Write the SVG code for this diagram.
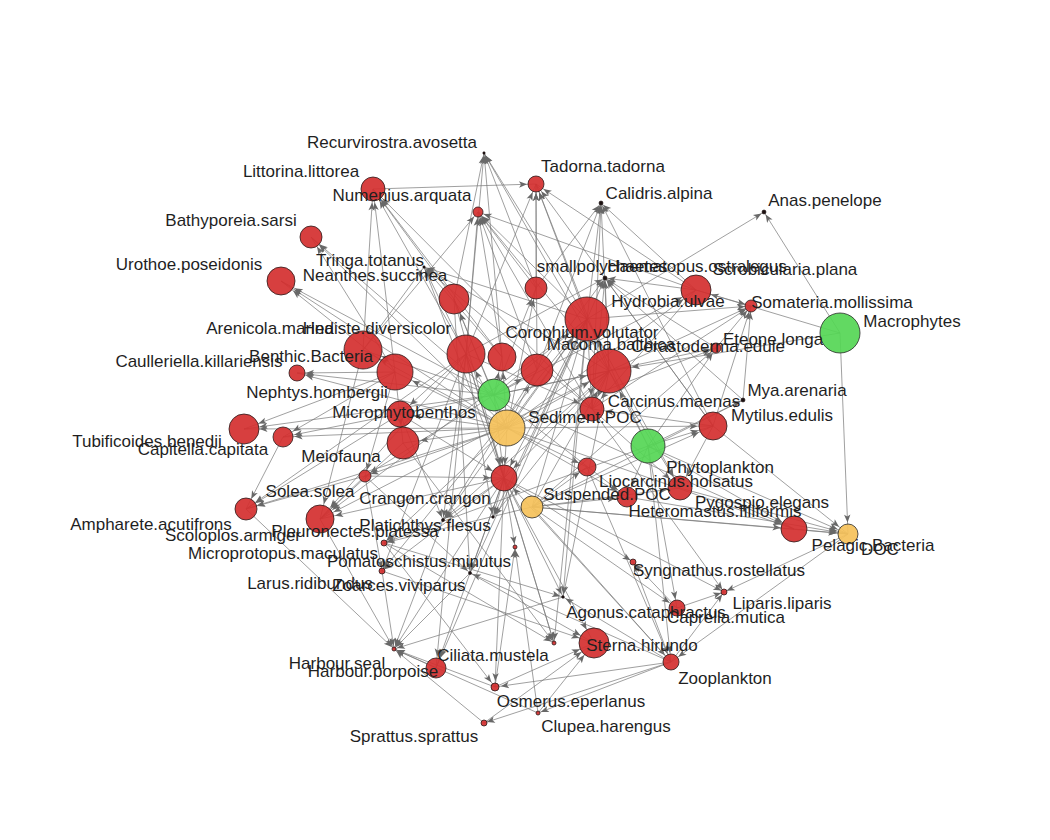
<svg xmlns="http://www.w3.org/2000/svg" width="1050" height="840" viewBox="0 0 1050 840">
<style>
#edges line{stroke:#777777;stroke-opacity:.7;stroke-width:1;fill:none}
.t2{marker-end:url(#m2)}.t5{marker-end:url(#m5)}.t8{marker-end:url(#m8)}.t10{marker-end:url(#m10)}.t12{marker-end:url(#m12)}.t14{marker-end:url(#m14)}.t16{marker-end:url(#m16)}.t18{marker-end:url(#m18)}.t22{marker-end:url(#m22)}
.ah{fill:#686868}
.r{fill:#d42f2f;fill-opacity:.92;stroke:#2a1a1a;stroke-width:.8}
.g{fill:#55d655;fill-opacity:.92;stroke:#2a2a2a;stroke-width:.8}
.o{fill:#f5c15a;fill-opacity:.92;stroke:#2a2a2a;stroke-width:.8}
.k{fill:#1c1010;stroke:#1c1010;stroke-width:.6}
#labels text{font-family:"Liberation Sans",Arial,sans-serif;font-size:17px;fill:#1f1f1f;text-anchor:middle}
</style>
<defs>
<marker id="m2" markerUnits="userSpaceOnUse" orient="auto" refX="11" refY="0" markerWidth="10" markerHeight="8" overflow="visible"><path class="ah" d="M0,-3.2L8,0L0,3.2L2,0Z"/></marker>
<marker id="m5" markerUnits="userSpaceOnUse" orient="auto" refX="14" refY="0" markerWidth="10" markerHeight="8" overflow="visible"><path class="ah" d="M0,-3.2L8,0L0,3.2L2,0Z"/></marker>
<marker id="m8" markerUnits="userSpaceOnUse" orient="auto" refX="17" refY="0" markerWidth="10" markerHeight="8" overflow="visible"><path class="ah" d="M0,-3.2L8,0L0,3.2L2,0Z"/></marker>
<marker id="m10" markerUnits="userSpaceOnUse" orient="auto" refX="19.5" refY="0" markerWidth="10" markerHeight="8" overflow="visible"><path class="ah" d="M0,-3.2L8,0L0,3.2L2,0Z"/></marker>
<marker id="m12" markerUnits="userSpaceOnUse" orient="auto" refX="21.5" refY="0" markerWidth="10" markerHeight="8" overflow="visible"><path class="ah" d="M0,-3.2L8,0L0,3.2L2,0Z"/></marker>
<marker id="m14" markerUnits="userSpaceOnUse" orient="auto" refX="23.5" refY="0" markerWidth="10" markerHeight="8" overflow="visible"><path class="ah" d="M0,-3.2L8,0L0,3.2L2,0Z"/></marker>
<marker id="m16" markerUnits="userSpaceOnUse" orient="auto" refX="25.5" refY="0" markerWidth="10" markerHeight="8" overflow="visible"><path class="ah" d="M0,-3.2L8,0L0,3.2L2,0Z"/></marker>
<marker id="m18" markerUnits="userSpaceOnUse" orient="auto" refX="27.5" refY="0" markerWidth="10" markerHeight="8" overflow="visible"><path class="ah" d="M0,-3.2L8,0L0,3.2L2,0Z"/></marker>
<marker id="m22" markerUnits="userSpaceOnUse" orient="auto" refX="31" refY="0" markerWidth="10" markerHeight="8" overflow="visible"><path class="ah" d="M0,-3.2L8,0L0,3.2L2,0Z"/></marker>
</defs>
<rect width="1050" height="840" fill="#ffffff"/>
<g id="edges">
<line x1="507" y1="428" x2="281" y2="281" class="t14"/>
<line x1="507" y1="428" x2="311" y2="237" class="t10"/>
<line x1="507" y1="428" x2="363" y2="350" class="t18"/>
<line x1="507" y1="428" x2="466" y2="354" class="t18"/>
<line x1="507" y1="428" x2="395" y2="372" class="t18"/>
<line x1="507" y1="428" x2="297" y2="373" class="t8"/>
<line x1="507" y1="428" x2="244" y2="429" class="t14"/>
<line x1="507" y1="428" x2="283" y2="437" class="t10"/>
<line x1="507" y1="428" x2="400" y2="414" class="t12"/>
<line x1="507" y1="428" x2="403" y2="443" class="t16"/>
<line x1="507" y1="428" x2="365" y2="476" class="t5"/>
<line x1="507" y1="428" x2="587" y2="319" class="t22"/>
<line x1="507" y1="428" x2="609" y2="371" class="t22"/>
<line x1="507" y1="428" x2="696" y2="290" class="t14"/>
<line x1="507" y1="428" x2="536" y2="288" class="t10"/>
<line x1="507" y1="428" x2="454" y2="299" class="t14"/>
<line x1="507" y1="428" x2="502" y2="357" class="t14"/>
<line x1="507" y1="428" x2="537" y2="370" class="t16"/>
<line x1="507" y1="428" x2="716" y2="348" class="t5"/>
<line x1="507" y1="428" x2="794" y2="529" class="t12"/>
<line x1="507" y1="428" x2="627" y2="497" class="t10"/>
<line x1="507" y1="428" x2="504" y2="478" class="t12"/>
<line x1="507" y1="428" x2="713" y2="426" class="t14"/>
<line x1="507" y1="428" x2="587" y2="467" class="t8"/>
<line x1="507" y1="428" x2="384" y2="543" class="t2"/>
<line x1="507" y1="428" x2="246" y2="509" class="t10"/>
<line x1="494" y1="395" x2="696" y2="290" class="t14"/>
<line x1="494" y1="395" x2="587" y2="319" class="t22"/>
<line x1="494" y1="395" x2="609" y2="371" class="t22"/>
<line x1="494" y1="395" x2="536" y2="288" class="t10"/>
<line x1="494" y1="395" x2="454" y2="299" class="t14"/>
<line x1="494" y1="395" x2="281" y2="281" class="t14"/>
<line x1="494" y1="395" x2="311" y2="237" class="t10"/>
<line x1="494" y1="395" x2="297" y2="373" class="t8"/>
<line x1="494" y1="395" x2="244" y2="429" class="t14"/>
<line x1="494" y1="395" x2="283" y2="437" class="t10"/>
<line x1="494" y1="395" x2="365" y2="476" class="t5"/>
<line x1="494" y1="395" x2="716" y2="348" class="t5"/>
<line x1="494" y1="395" x2="537" y2="370" class="t16"/>
<line x1="494" y1="395" x2="502" y2="357" class="t14"/>
<line x1="494" y1="395" x2="363" y2="350" class="t18"/>
<line x1="494" y1="395" x2="794" y2="529" class="t12"/>
<line x1="494" y1="395" x2="627" y2="497" class="t10"/>
<line x1="494" y1="395" x2="504" y2="478" class="t12"/>
<line x1="395" y1="372" x2="244" y2="429" class="t14"/>
<line x1="395" y1="372" x2="283" y2="437" class="t10"/>
<line x1="395" y1="372" x2="297" y2="373" class="t8"/>
<line x1="395" y1="372" x2="281" y2="281" class="t14"/>
<line x1="395" y1="372" x2="311" y2="237" class="t10"/>
<line x1="395" y1="372" x2="365" y2="476" class="t5"/>
<line x1="395" y1="372" x2="403" y2="443" class="t16"/>
<line x1="466" y1="354" x2="400" y2="414" class="t12"/>
<line x1="454" y1="299" x2="504" y2="478" class="t12"/>
<line x1="587" y1="467" x2="671" y2="662" class="t8"/>
<line x1="713" y1="426" x2="536" y2="184" class="t8"/>
<line x1="532" y1="507" x2="713" y2="426" class="t14"/>
<line x1="532" y1="507" x2="716" y2="348" class="t5"/>
<line x1="532" y1="507" x2="743" y2="400" class="t2"/>
<line x1="532" y1="507" x2="794" y2="529" class="t12"/>
<line x1="532" y1="507" x2="609" y2="371" class="t22"/>
<line x1="532" y1="507" x2="587" y2="319" class="t22"/>
<line x1="532" y1="507" x2="671" y2="662" class="t8"/>
<line x1="532" y1="507" x2="677" y2="608" class="t8"/>
<line x1="532" y1="507" x2="627" y2="497" class="t10"/>
<line x1="532" y1="507" x2="384" y2="543" class="t2"/>
<line x1="532" y1="507" x2="680" y2="488" class="t12"/>
<line x1="532" y1="507" x2="587" y2="467" class="t8"/>
<line x1="532" y1="507" x2="848" y2="534" class="t10"/>
<line x1="648" y1="446" x2="713" y2="426" class="t14"/>
<line x1="648" y1="446" x2="743" y2="400" class="t2"/>
<line x1="648" y1="446" x2="716" y2="348" class="t5"/>
<line x1="648" y1="446" x2="671" y2="662" class="t8"/>
<line x1="648" y1="446" x2="677" y2="608" class="t8"/>
<line x1="648" y1="446" x2="794" y2="529" class="t12"/>
<line x1="648" y1="446" x2="609" y2="371" class="t22"/>
<line x1="648" y1="446" x2="627" y2="497" class="t10"/>
<line x1="648" y1="446" x2="587" y2="319" class="t22"/>
<line x1="648" y1="446" x2="384" y2="543" class="t2"/>
<line x1="648" y1="446" x2="848" y2="534" class="t10"/>
<line x1="840" y1="333" x2="764" y2="212" class="t2"/>
<line x1="840" y1="333" x2="848" y2="534" class="t10"/>
<line x1="840" y1="333" x2="696" y2="290" class="t14"/>
<line x1="840" y1="333" x2="609" y2="371" class="t22"/>
<line x1="794" y1="529" x2="848" y2="534" class="t10"/>
<line x1="680" y1="488" x2="848" y2="534" class="t10"/>
<line x1="713" y1="426" x2="848" y2="534" class="t10"/>
<line x1="848" y1="534" x2="671" y2="662" class="t8"/>
<line x1="848" y1="534" x2="724" y2="592" class="t2"/>
<line x1="627" y1="497" x2="848" y2="534" class="t10"/>
<line x1="466" y1="354" x2="484" y2="153" class="t2"/>
<line x1="454" y1="299" x2="484" y2="153" class="t2"/>
<line x1="587" y1="319" x2="484" y2="153" class="t2"/>
<line x1="502" y1="357" x2="484" y2="153" class="t2"/>
<line x1="609" y1="371" x2="484" y2="153" class="t2"/>
<line x1="536" y1="288" x2="484" y2="153" class="t2"/>
<line x1="363" y1="350" x2="373" y2="189" class="t12"/>
<line x1="466" y1="354" x2="373" y2="189" class="t12"/>
<line x1="454" y1="299" x2="373" y2="189" class="t12"/>
<line x1="592" y1="409" x2="373" y2="189" class="t12"/>
<line x1="395" y1="372" x2="373" y2="189" class="t12"/>
<line x1="502" y1="357" x2="373" y2="189" class="t12"/>
<line x1="466" y1="354" x2="478" y2="212" class="t5"/>
<line x1="587" y1="319" x2="478" y2="212" class="t5"/>
<line x1="609" y1="371" x2="478" y2="212" class="t5"/>
<line x1="502" y1="357" x2="478" y2="212" class="t5"/>
<line x1="537" y1="370" x2="478" y2="212" class="t5"/>
<line x1="592" y1="409" x2="478" y2="212" class="t5"/>
<line x1="363" y1="350" x2="478" y2="212" class="t5"/>
<line x1="696" y1="290" x2="478" y2="212" class="t5"/>
<line x1="536" y1="288" x2="478" y2="212" class="t5"/>
<line x1="373" y1="189" x2="536" y2="184" class="t8"/>
<line x1="696" y1="290" x2="536" y2="184" class="t8"/>
<line x1="587" y1="319" x2="536" y2="184" class="t8"/>
<line x1="536" y1="288" x2="536" y2="184" class="t8"/>
<line x1="609" y1="371" x2="536" y2="184" class="t8"/>
<line x1="537" y1="370" x2="536" y2="184" class="t8"/>
<line x1="466" y1="354" x2="536" y2="184" class="t8"/>
<line x1="696" y1="290" x2="601" y2="203" class="t2"/>
<line x1="587" y1="319" x2="601" y2="203" class="t2"/>
<line x1="609" y1="371" x2="601" y2="203" class="t2"/>
<line x1="536" y1="288" x2="601" y2="203" class="t2"/>
<line x1="713" y1="426" x2="601" y2="203" class="t2"/>
<line x1="537" y1="370" x2="601" y2="203" class="t2"/>
<line x1="592" y1="409" x2="601" y2="203" class="t2"/>
<line x1="466" y1="354" x2="424" y2="267" class="t2"/>
<line x1="587" y1="319" x2="424" y2="267" class="t2"/>
<line x1="609" y1="371" x2="424" y2="267" class="t2"/>
<line x1="502" y1="357" x2="424" y2="267" class="t2"/>
<line x1="592" y1="409" x2="424" y2="267" class="t2"/>
<line x1="504" y1="478" x2="424" y2="267" class="t2"/>
<line x1="363" y1="350" x2="424" y2="267" class="t2"/>
<line x1="713" y1="426" x2="605" y2="278" class="t2"/>
<line x1="609" y1="371" x2="605" y2="278" class="t2"/>
<line x1="716" y1="348" x2="605" y2="278" class="t2"/>
<line x1="587" y1="319" x2="605" y2="278" class="t2"/>
<line x1="466" y1="354" x2="605" y2="278" class="t2"/>
<line x1="592" y1="409" x2="605" y2="278" class="t2"/>
<line x1="743" y1="400" x2="605" y2="278" class="t2"/>
<line x1="537" y1="370" x2="605" y2="278" class="t2"/>
<line x1="696" y1="290" x2="605" y2="278" class="t2"/>
<line x1="587" y1="319" x2="764" y2="212" class="t2"/>
<line x1="713" y1="426" x2="751" y2="306" class="t5"/>
<line x1="716" y1="348" x2="751" y2="306" class="t5"/>
<line x1="609" y1="371" x2="751" y2="306" class="t5"/>
<line x1="592" y1="409" x2="751" y2="306" class="t5"/>
<line x1="743" y1="400" x2="751" y2="306" class="t5"/>
<line x1="587" y1="319" x2="751" y2="306" class="t5"/>
<line x1="696" y1="290" x2="751" y2="306" class="t5"/>
<line x1="609" y1="371" x2="592" y2="409" class="t12"/>
<line x1="587" y1="319" x2="592" y2="409" class="t12"/>
<line x1="696" y1="290" x2="592" y2="409" class="t12"/>
<line x1="466" y1="354" x2="592" y2="409" class="t12"/>
<line x1="713" y1="426" x2="592" y2="409" class="t12"/>
<line x1="365" y1="476" x2="504" y2="478" class="t12"/>
<line x1="587" y1="319" x2="504" y2="478" class="t12"/>
<line x1="466" y1="354" x2="504" y2="478" class="t12"/>
<line x1="609" y1="371" x2="504" y2="478" class="t12"/>
<line x1="400" y1="414" x2="504" y2="478" class="t12"/>
<line x1="671" y1="662" x2="504" y2="478" class="t12"/>
<line x1="587" y1="319" x2="680" y2="488" class="t12"/>
<line x1="609" y1="371" x2="680" y2="488" class="t12"/>
<line x1="713" y1="426" x2="680" y2="488" class="t12"/>
<line x1="592" y1="409" x2="680" y2="488" class="t12"/>
<line x1="587" y1="319" x2="443" y2="520" class="t2"/>
<line x1="466" y1="354" x2="443" y2="520" class="t2"/>
<line x1="504" y1="478" x2="443" y2="520" class="t2"/>
<line x1="609" y1="371" x2="443" y2="520" class="t2"/>
<line x1="537" y1="370" x2="443" y2="520" class="t2"/>
<line x1="400" y1="414" x2="443" y2="520" class="t2"/>
<line x1="466" y1="354" x2="320" y2="519" class="t14"/>
<line x1="587" y1="319" x2="320" y2="519" class="t14"/>
<line x1="609" y1="371" x2="320" y2="519" class="t14"/>
<line x1="403" y1="443" x2="320" y2="519" class="t14"/>
<line x1="504" y1="478" x2="320" y2="519" class="t14"/>
<line x1="363" y1="350" x2="320" y2="519" class="t14"/>
<line x1="365" y1="476" x2="320" y2="519" class="t14"/>
<line x1="283" y1="437" x2="246" y2="509" class="t10"/>
<line x1="365" y1="476" x2="246" y2="509" class="t10"/>
<line x1="400" y1="414" x2="246" y2="509" class="t10"/>
<line x1="466" y1="354" x2="246" y2="509" class="t10"/>
<line x1="504" y1="478" x2="554" y2="643" class="t2"/>
<line x1="466" y1="354" x2="554" y2="643" class="t2"/>
<line x1="587" y1="319" x2="554" y2="643" class="t2"/>
<line x1="384" y1="543" x2="554" y2="643" class="t2"/>
<line x1="403" y1="443" x2="554" y2="643" class="t2"/>
<line x1="587" y1="319" x2="493" y2="517" class="t2"/>
<line x1="609" y1="371" x2="493" y2="517" class="t2"/>
<line x1="466" y1="354" x2="493" y2="517" class="t2"/>
<line x1="504" y1="478" x2="493" y2="517" class="t2"/>
<line x1="504" y1="478" x2="382" y2="571" class="t2"/>
<line x1="466" y1="354" x2="382" y2="571" class="t2"/>
<line x1="587" y1="319" x2="382" y2="571" class="t2"/>
<line x1="365" y1="476" x2="382" y2="571" class="t2"/>
<line x1="587" y1="319" x2="470" y2="573" class="t2"/>
<line x1="365" y1="476" x2="470" y2="573" class="t2"/>
<line x1="671" y1="662" x2="470" y2="573" class="t2"/>
<line x1="504" y1="478" x2="470" y2="573" class="t2"/>
<line x1="454" y1="299" x2="470" y2="573" class="t2"/>
<line x1="504" y1="478" x2="515" y2="547" class="t2"/>
<line x1="538" y1="713" x2="515" y2="547" class="t2"/>
<line x1="495" y1="687" x2="515" y2="547" class="t2"/>
<line x1="671" y1="662" x2="633" y2="562" class="t2"/>
<line x1="677" y1="608" x2="633" y2="562" class="t2"/>
<line x1="504" y1="478" x2="633" y2="562" class="t2"/>
<line x1="671" y1="662" x2="724" y2="592" class="t2"/>
<line x1="504" y1="478" x2="724" y2="592" class="t2"/>
<line x1="592" y1="409" x2="724" y2="592" class="t2"/>
<line x1="677" y1="608" x2="724" y2="592" class="t2"/>
<line x1="504" y1="478" x2="563" y2="597" class="t2"/>
<line x1="587" y1="319" x2="563" y2="597" class="t2"/>
<line x1="609" y1="371" x2="563" y2="597" class="t2"/>
<line x1="671" y1="662" x2="563" y2="597" class="t2"/>
<line x1="384" y1="543" x2="563" y2="597" class="t2"/>
<line x1="504" y1="478" x2="594" y2="643" class="t14"/>
<line x1="470" y1="573" x2="594" y2="643" class="t14"/>
<line x1="484" y1="723" x2="594" y2="643" class="t14"/>
<line x1="538" y1="713" x2="594" y2="643" class="t14"/>
<line x1="495" y1="687" x2="594" y2="643" class="t14"/>
<line x1="382" y1="571" x2="594" y2="643" class="t14"/>
<line x1="443" y1="520" x2="394" y2="649" class="t2"/>
<line x1="320" y1="519" x2="394" y2="649" class="t2"/>
<line x1="246" y1="509" x2="394" y2="649" class="t2"/>
<line x1="436" y1="668" x2="394" y2="649" class="t2"/>
<line x1="382" y1="571" x2="394" y2="649" class="t2"/>
<line x1="495" y1="687" x2="394" y2="649" class="t2"/>
<line x1="538" y1="713" x2="394" y2="649" class="t2"/>
<line x1="484" y1="723" x2="394" y2="649" class="t2"/>
<line x1="470" y1="573" x2="394" y2="649" class="t2"/>
<line x1="504" y1="478" x2="394" y2="649" class="t2"/>
<line x1="563" y1="597" x2="394" y2="649" class="t2"/>
<line x1="504" y1="478" x2="436" y2="668" class="t10"/>
<line x1="587" y1="319" x2="436" y2="668" class="t10"/>
<line x1="466" y1="354" x2="436" y2="668" class="t10"/>
<line x1="504" y1="478" x2="495" y2="687" class="t5"/>
<line x1="671" y1="662" x2="495" y2="687" class="t5"/>
<line x1="384" y1="543" x2="495" y2="687" class="t5"/>
<line x1="671" y1="662" x2="538" y2="713" class="t2"/>
<line x1="671" y1="662" x2="484" y2="723" class="t2"/>
</g>
<g id="nodes">
<g id="Recurvirostra_avosetta"><circle cx="484" cy="153" r="1.2" class="k"/></g>
<g id="Tadorna_tadorna"><circle cx="536" cy="184" r="8" class="r"/></g>
<g id="Littorina_littorea"><circle cx="373" cy="189" r="12" class="r"/></g>
<g id="Numenius_arquata"><circle cx="478" cy="212" r="5" class="r"/></g>
<g id="Calidris_alpina"><circle cx="601" cy="203" r="2" class="k"/></g>
<g id="Anas_penelope"><circle cx="764" cy="212" r="2" class="k"/></g>
<g id="Bathyporeia_sarsi"><circle cx="311" cy="237" r="11" class="r"/></g>
<g id="Tringa_totanus"><circle cx="424" cy="267" r="1.2" class="k"/></g>
<g id="Urothoe_poseidonis"><circle cx="281" cy="281" r="14" class="r"/></g>
<g id="Haematopus_ostralegus"><circle cx="605" cy="278" r="2" class="k"/></g>
<g id="smallpolychaetes"><circle cx="536" cy="288" r="11" class="r"/></g>
<g id="Hydrobia_ulvae"><circle cx="696" cy="290" r="15" class="r"/></g>
<g id="Neanthes_succinea"><circle cx="454" cy="299" r="15" class="r"/></g>
<g id="Somateria_mollissima"><circle cx="751" cy="306" r="6" class="r"/></g>
<g id="Corophium_volutator"><circle cx="587" cy="319" r="22" class="r"/></g>
<g id="Macrophytes"><circle cx="840" cy="333" r="20" class="g"/></g>
<g id="Cerastoderma_edule"><circle cx="716" cy="348" r="5" class="r"/></g>
<g id="Arenicola_marina"><circle cx="363" cy="350" r="19" class="r"/></g>
<g id="Hediste_diversicolor"><circle cx="466" cy="354" r="19" class="r"/></g>
<g id="Eteone_longa"><circle cx="502" cy="357" r="14" class="r"/></g>
<g id="Scrobicularia_plana"><circle cx="537" cy="370" r="16" class="r"/></g>
<g id="Macoma_balthica"><circle cx="609" cy="371" r="22" class="r"/></g>
<g id="Benthic_Bacteria"><circle cx="395" cy="372" r="18" class="r"/></g>
<g id="Caulleriella_killariensis"><circle cx="297" cy="373" r="8" class="r"/></g>
<g id="Microphytobenthos"><circle cx="494" cy="395" r="16" class="g"/></g>
<g id="Mya_arenaria"><circle cx="743" cy="400" r="2" class="k"/></g>
<g id="Carcinus_maenas"><circle cx="592" cy="409" r="12" class="r"/></g>
<g id="Nephtys_hombergii"><circle cx="400" cy="414" r="13" class="r"/></g>
<g id="Mytilus_edulis"><circle cx="713" cy="426" r="14" class="r"/></g>
<g id="Sediment_POC"><circle cx="507" cy="428" r="18" class="o"/></g>
<g id="Tubificoides_benedii"><circle cx="244" cy="429" r="15" class="r"/></g>
<g id="Capitella_capitata"><circle cx="283" cy="437" r="10" class="r"/></g>
<g id="Scoloplos_armiger"><circle cx="403" cy="443" r="16" class="r"/></g>
<g id="Phytoplankton"><circle cx="648" cy="446" r="17" class="g"/></g>
<g id="Pelagic_Bacteria"><circle cx="587" cy="467" r="9" class="r"/></g>
<g id="Meiofauna"><circle cx="365" cy="476" r="6" class="r"/></g>
<g id="Crangon_crangon"><circle cx="504" cy="478" r="13" class="r"/></g>
<g id="Liocarcinus_holsatus"><circle cx="680" cy="488" r="12" class="r"/></g>
<g id="Heteromastus_filiformis"><circle cx="627" cy="497" r="10" class="r"/></g>
<g id="Suspended_POC"><circle cx="532" cy="507" r="11" class="o"/></g>
<g id="Ampharete_acutifrons"><circle cx="246" cy="509" r="11" class="r"/></g>
<g id="Larus_ridibundus"><circle cx="493" cy="517" r="1.3" class="k"/></g>
<g id="Pleuronectes_platessa"><circle cx="320" cy="519" r="14" class="r"/></g>
<g id="Platichthys_flesus"><circle cx="443" cy="520" r="1.5" class="k"/></g>
<g id="Pygospio_elegans"><circle cx="794" cy="529" r="13" class="r"/></g>
<g id="DOC"><circle cx="848" cy="534" r="10" class="o"/></g>
<g id="Microprotopus_maculatus"><circle cx="384" cy="543" r="3" class="r"/></g>
<g id="Harbour_porpoise"><circle cx="515" cy="547" r="2" class="r"/></g>
<g id="Syngnathus_rostellatus"><circle cx="633" cy="562" r="3" class="r"/></g>
<g id="Zoarces_viviparus"><circle cx="382" cy="571" r="3" class="r"/></g>
<g id="Pomatoschistus_minutus"><circle cx="470" cy="573" r="1.5" class="k"/></g>
<g id="Liparis_liparis"><circle cx="724" cy="592" r="3" class="r"/></g>
<g id="Agonus_cataphractus"><circle cx="563" cy="597" r="1.3" class="k"/></g>
<g id="Caprella_mutica"><circle cx="677" cy="608" r="8" class="r"/></g>
<g id="Solea_solea"><circle cx="554" cy="643" r="2" class="r"/></g>
<g id="Sterna_hirundo"><circle cx="594" cy="643" r="15" class="r"/></g>
<g id="Harbour_seal"><circle cx="394" cy="649" r="2" class="r"/></g>
<g id="Zooplankton"><circle cx="671" cy="662" r="8" class="r"/></g>
<g id="Ciliata_mustela"><circle cx="436" cy="668" r="10" class="r"/></g>
<g id="Osmerus_eperlanus"><circle cx="495" cy="687" r="4" class="r"/></g>
<g id="Clupea_harengus"><circle cx="538" cy="713" r="2" class="r"/></g>
<g id="Sprattus_sprattus"><circle cx="484" cy="723" r="3" class="r"/></g>
</g>
<g id="labels">
<text x="392" y="148">Recurvirostra.avosetta</text>
<text x="603" y="172">Tadorna.tadorna</text>
<text x="301" y="177">Littorina.littorea</text>
<text x="402" y="201">Numenius.arquata</text>
<text x="659" y="199">Calidris.alpina</text>
<text x="825" y="206">Anas.penelope</text>
<text x="231" y="226">Bathyporeia.sarsi</text>
<text x="370" y="266">Tringa.totanus</text>
<text x="189" y="270">Urothoe.poseidonis</text>
<text x="375" y="281">Neanthes.succinea</text>
<text x="602" y="272">smallpolychaetes</text>
<text x="697" y="272">Haematopus.ostralegus</text>
<text x="785" y="275">Scrobicularia.plana</text>
<text x="668" y="307">Hydrobia.ulvae</text>
<text x="832" y="308">Somateria.mollissima</text>
<text x="912" y="327">Macrophytes</text>
<text x="270" y="334">Arenicola.marina</text>
<text x="377" y="334">Hediste.diversicolor</text>
<text x="582" y="338">Corophium.volutator</text>
<text x="773" y="345">Eteone.longa</text>
<text x="611" y="350">Macoma.balthica</text>
<text x="708" y="352">Cerastoderma.edule</text>
<text x="311" y="362">Benthic.Bacteria</text>
<text x="199" y="367">Caulleriella.killariensis</text>
<text x="797" y="396">Mya.arenaria</text>
<text x="317" y="398">Nephtys.hombergii</text>
<text x="674" y="407">Carcinus.maenas</text>
<text x="404" y="418">Microphytobenthos</text>
<text x="782" y="421">Mytilus.edulis</text>
<text x="585" y="423">Sediment.POC</text>
<text x="147" y="447">Tubificoides.benedii</text>
<text x="203" y="455">Capitella.capitata</text>
<text x="341" y="462">Meiofauna</text>
<text x="720" y="473">Phytoplankton</text>
<text x="676" y="487">Liocarcinus.holsatus</text>
<text x="310" y="497">Solea.solea</text>
<text x="607" y="500">Suspended.POC</text>
<text x="425" y="504">Crangon.crangon</text>
<text x="762" y="508">Pygospio.elegans</text>
<text x="715" y="517">Heteromastus.filiformis</text>
<text x="151" y="530">Ampharete.acutifrons</text>
<text x="425" y="531">Platichthys.flesus</text>
<text x="355" y="537">Pleuronectes.platessa</text>
<text x="233" y="541">Scoloplos.armiger</text>
<text x="873" y="551">Pelagic.Bacteria</text>
<text x="880" y="555">DOC</text>
<text x="283" y="559">Microprotopus.maculatus</text>
<text x="419" y="567">Pomatoschistus.minutus</text>
<text x="719" y="576">Syngnathus.rostellatus</text>
<text x="310" y="589">Larus.ridibundus</text>
<text x="399" y="591">Zoarces.viviparus</text>
<text x="782" y="609">Liparis.liparis</text>
<text x="646" y="618">Agonus.cataphractus</text>
<text x="726" y="623">Caprella.mutica</text>
<text x="642" y="651">Sterna.hirundo</text>
<text x="493" y="661">Ciliata.mustela</text>
<text x="337" y="669">Harbour.seal</text>
<text x="373" y="677">Harbour.porpoise</text>
<text x="725" y="684">Zooplankton</text>
<text x="571" y="707">Osmerus.eperlanus</text>
<text x="606" y="732">Clupea.harengus</text>
<text x="414" y="742">Sprattus.sprattus</text>
</g>
</svg>
